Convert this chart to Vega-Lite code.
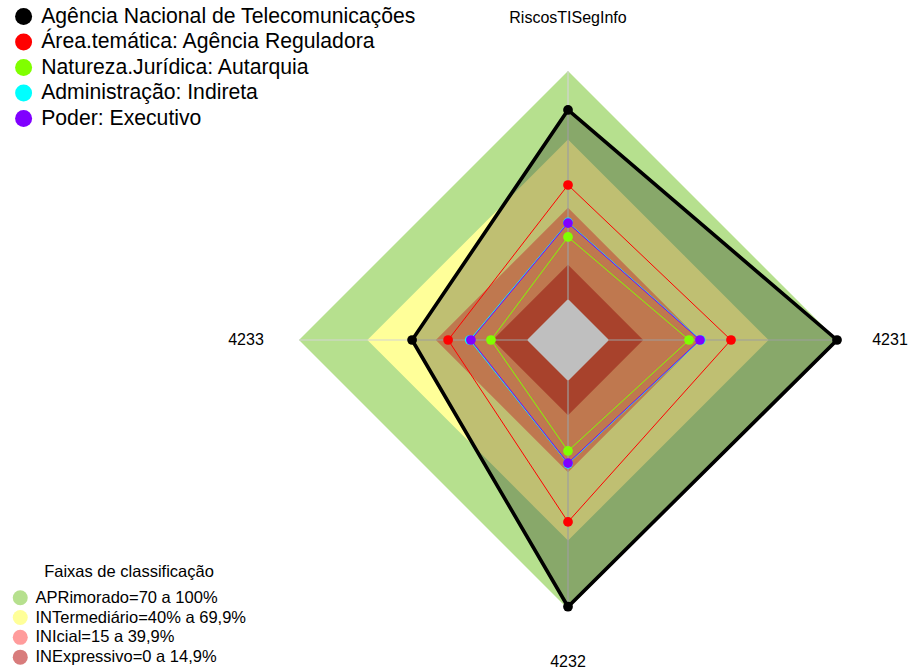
{
  "$schema": "https://vega.github.io/schema/vega-lite/v6.json",
  "width": 909,
  "height": 672,
  "padding": 0,
  "autosize": {"type": "none"},
  "background": "white",
  "config": {"view": {"stroke": null}, "font": "Liberation Sans", "text": {"font": "Liberation Sans"}},
  "datasets": {
    "series": [
      {"serie": "Agência Nacional de Telecomunicações", "axis": "RiscosTISegInfo", "value": 82.9},
      {"serie": "Agência Nacional de Telecomunicações", "axis": "4231", "value": 100},
      {"serie": "Agência Nacional de Telecomunicações", "axis": "4232", "value": 99},
      {"serie": "Agência Nacional de Telecomunicações", "axis": "4233", "value": 50.4},
      {"serie": "Área.temática: Agência Reguladora", "axis": "RiscosTISegInfo", "value": 50},
      {"serie": "Área.temática: Agência Reguladora", "axis": "4231", "value": 53.5},
      {"serie": "Área.temática: Agência Reguladora", "axis": "4232", "value": 61.8},
      {"serie": "Área.temática: Agência Reguladora", "axis": "4233", "value": 34.6},
      {"serie": "Natureza.Jurídica: Autarquia", "axis": "RiscosTISegInfo", "value": 27.2},
      {"serie": "Natureza.Jurídica: Autarquia", "axis": "4231", "value": 35.1},
      {"serie": "Natureza.Jurídica: Autarquia", "axis": "4232", "value": 30.7},
      {"serie": "Natureza.Jurídica: Autarquia", "axis": "4233", "value": 15.8},
      {"serie": "Administração: Indireta", "axis": "RiscosTISegInfo", "value": 33.6},
      {"serie": "Administração: Indireta", "axis": "4231", "value": 40.2},
      {"serie": "Administração: Indireta", "axis": "4232", "value": 36.3},
      {"serie": "Administração: Indireta", "axis": "4233", "value": 25.1},
      {"serie": "Poder: Executivo", "axis": "RiscosTISegInfo", "value": 33.3},
      {"serie": "Poder: Executivo", "axis": "4231", "value": 39.9},
      {"serie": "Poder: Executivo", "axis": "4232", "value": 36},
      {"serie": "Poder: Executivo", "axis": "4233", "value": 24.6}
    ],
    "rings": [
      {"band": "APR", "axis": "RiscosTISegInfo", "value": 100},
      {"band": "APR", "axis": "4231", "value": 100},
      {"band": "APR", "axis": "4232", "value": 100},
      {"band": "APR", "axis": "4233", "value": 100},
      {"band": "INT", "axis": "RiscosTISegInfo", "value": 70},
      {"band": "INT", "axis": "4231", "value": 70},
      {"band": "INT", "axis": "4232", "value": 70},
      {"band": "INT", "axis": "4233", "value": 70},
      {"band": "INI", "axis": "RiscosTISegInfo", "value": 40},
      {"band": "INI", "axis": "4231", "value": 40},
      {"band": "INI", "axis": "4232", "value": 40},
      {"band": "INI", "axis": "4233", "value": 40},
      {"band": "INE", "axis": "RiscosTISegInfo", "value": 15},
      {"band": "INE", "axis": "4231", "value": 15},
      {"band": "INE", "axis": "4232", "value": 15},
      {"band": "INE", "axis": "4233", "value": 15},
      {"band": "ZERO", "axis": "RiscosTISegInfo", "value": 0},
      {"band": "ZERO", "axis": "4231", "value": 0},
      {"band": "ZERO", "axis": "4232", "value": 0},
      {"band": "ZERO", "axis": "4233", "value": 0}
    ],
    "axes": [
      {"axis": "RiscosTISegInfo"},
      {"axis": "4231"},
      {"axis": "4232"},
      {"axis": "4233"}
    ],
    "bands": [
      {"band": "APRimorado=70 a 100%"},
      {"band": "INTermediário=40% a 69,9%"},
      {"band": "INIcial=15 a 39,9%"},
      {"band": "INExpressivo=0 a 14,9%"}
    ]
  },
  "layer": [
    {
      "data": {"name": "rings"},
      "transform": [
        {"filter": "datum.band === 'APR'"},
        {"calculate": "datum.axis === 'RiscosTISegInfo' ? 0 : datum.axis === '4231' ? 1 : datum.axis === '4232' ? 2 : 3", "as": "idx"},
        {"calculate": "0.15242 + 0.84758 * datum.value / 100", "as": "r"},
        {"calculate": "datum.idx === 1 ? datum.r : datum.idx === 3 ? -datum.r : 0", "as": "px"},
        {"calculate": "datum.idx === 0 ? datum.r : datum.idx === 2 ? -datum.r : 0", "as": "py"}
      ],
      "mark": {"type": "line", "interpolate": "linear-closed", "fill": "#B6E08E", "stroke": null},
      "encoding": {
        "x": {"field": "px", "type": "quantitative", "scale": {"domain": [-2.11152, 1.26766], "nice": false, "zero": false}, "axis": null},
        "y": {"field": "py", "type": "quantitative", "scale": {"domain": [-1.2342, 1.26394], "nice": false, "zero": false}, "axis": null},
        "order": {"field": "idx"}
      }
    },
    {
      "data": {"name": "rings"},
      "transform": [
        {"filter": "datum.band === 'INT'"},
        {"calculate": "datum.axis === 'RiscosTISegInfo' ? 0 : datum.axis === '4231' ? 1 : datum.axis === '4232' ? 2 : 3", "as": "idx"},
        {"calculate": "0.15242 + 0.84758 * datum.value / 100", "as": "r"},
        {"calculate": "datum.idx === 1 ? datum.r : datum.idx === 3 ? -datum.r : 0", "as": "px"},
        {"calculate": "datum.idx === 0 ? datum.r : datum.idx === 2 ? -datum.r : 0", "as": "py"}
      ],
      "mark": {"type": "line", "interpolate": "linear-closed", "fill": "#FFFF99", "stroke": null},
      "encoding": {
        "x": {"field": "px", "type": "quantitative"},
        "y": {"field": "py", "type": "quantitative"},
        "order": {"field": "idx"}
      }
    },
    {
      "data": {"name": "rings"},
      "transform": [
        {"filter": "datum.band === 'INI'"},
        {"calculate": "datum.axis === 'RiscosTISegInfo' ? 0 : datum.axis === '4231' ? 1 : datum.axis === '4232' ? 2 : 3", "as": "idx"},
        {"calculate": "0.15242 + 0.84758 * datum.value / 100", "as": "r"},
        {"calculate": "datum.idx === 1 ? datum.r : datum.idx === 3 ? -datum.r : 0", "as": "px"},
        {"calculate": "datum.idx === 0 ? datum.r : datum.idx === 2 ? -datum.r : 0", "as": "py"}
      ],
      "mark": {"type": "line", "interpolate": "linear-closed", "fill": "#FFA06A", "stroke": null},
      "encoding": {
        "x": {"field": "px", "type": "quantitative"},
        "y": {"field": "py", "type": "quantitative"},
        "order": {"field": "idx"}
      }
    },
    {
      "data": {"name": "rings"},
      "transform": [
        {"filter": "datum.band === 'INE'"},
        {"calculate": "datum.axis === 'RiscosTISegInfo' ? 0 : datum.axis === '4231' ? 1 : datum.axis === '4232' ? 2 : 3", "as": "idx"},
        {"calculate": "0.15242 + 0.84758 * datum.value / 100", "as": "r"},
        {"calculate": "datum.idx === 1 ? datum.r : datum.idx === 3 ? -datum.r : 0", "as": "px"},
        {"calculate": "datum.idx === 0 ? datum.r : datum.idx === 2 ? -datum.r : 0", "as": "py"}
      ],
      "mark": {"type": "line", "interpolate": "linear-closed", "fill": "#E0593B", "stroke": null},
      "encoding": {
        "x": {"field": "px", "type": "quantitative"},
        "y": {"field": "py", "type": "quantitative"},
        "order": {"field": "idx"}
      }
    },
    {
      "data": {"name": "rings"},
      "transform": [
        {"filter": "datum.band === 'ZERO'"},
        {"calculate": "datum.axis === 'RiscosTISegInfo' ? 0 : datum.axis === '4231' ? 1 : datum.axis === '4232' ? 2 : 3", "as": "idx"},
        {"calculate": "0.15242 + 0.84758 * datum.value / 100", "as": "r"},
        {"calculate": "datum.idx === 1 ? datum.r : datum.idx === 3 ? -datum.r : 0", "as": "px"},
        {"calculate": "datum.idx === 0 ? datum.r : datum.idx === 2 ? -datum.r : 0", "as": "py"}
      ],
      "mark": {"type": "line", "interpolate": "linear-closed", "fill": "#FFFFFF", "stroke": null},
      "encoding": {
        "x": {"field": "px", "type": "quantitative"},
        "y": {"field": "py", "type": "quantitative"},
        "order": {"field": "idx"}
      }
    },
    {
      "data": {"name": "axes"},
      "transform": [
        {"calculate": "datum.axis === '4231' ? 1 : datum.axis === '4233' ? -1 : 0", "as": "dx"},
        {"calculate": "datum.axis === 'RiscosTISegInfo' ? 1 : datum.axis === '4232' ? -1 : 0", "as": "dy"},
        {"calculate": "0.15242 * datum.dx", "as": "x0"},
        {"calculate": "0.15242 * datum.dy", "as": "y0"}
      ],
      "mark": {"type": "rule", "color": "#D3D3D3", "strokeWidth": 1.2},
      "encoding": {
        "x": {"field": "x0", "type": "quantitative"},
        "y": {"field": "y0", "type": "quantitative"},
        "x2": {"field": "dx"},
        "y2": {"field": "dy"}
      }
    },
    {
      "data": {"name": "bands"},
      "mark": {"type": "circle", "opacity": 0},
      "encoding": {
        "x": {"datum": 0, "type": "quantitative"},
        "y": {"datum": 0, "type": "quantitative"},
        "fill": {
          "field": "band",
          "type": "nominal",
          "scale": {
            "domain": ["APRimorado=70 a 100%", "INTermediário=40% a 69,9%", "INIcial=15 a 39,9%", "INExpressivo=0 a 14,9%"],
            "range": ["#B6E08E", "#FFFF99", "#FF9C9C", "#D87C7C"]
          },
          "legend": {
            "orient": "none",
            "legendX": 12,
            "legendY": 564,
            "title": "Faixas de classificação",
            "titleFont": "Liberation Sans",
            "titleFontSize": 16.5,
            "titleFontWeight": "normal",
            "titleColor": "black",
            "titleAnchor": "middle",
            "titlePadding": 9,
            "labelFont": "Liberation Sans",
            "labelFontSize": 16.5,
            "labelColor": "black",
            "labelLimit": 600,
            "labelOffset": 7,
            "symbolType": "circle",
            "symbolSize": 225,
            "symbolOpacity": 1,
            "symbolStrokeWidth": 0,
            "rowPadding": 2.8
          }
        }
      }
    },
    {
      "data": {"name": "series"},
      "transform": [
        {"filter": "datum.serie === 'Agência Nacional de Telecomunicações'"},
        {"calculate": "datum.axis === 'RiscosTISegInfo' ? 0 : datum.axis === '4231' ? 1 : datum.axis === '4232' ? 2 : 3", "as": "idx"},
        {"calculate": "0.15242 + 0.84758 * datum.value / 100", "as": "r"},
        {"calculate": "datum.idx === 1 ? datum.r : datum.idx === 3 ? -datum.r : 0", "as": "px"},
        {"calculate": "datum.idx === 0 ? datum.r : datum.idx === 2 ? -datum.r : 0", "as": "py"}
      ],
      "mark": {"type": "line", "interpolate": "linear-closed", "fill": "#000000", "fillOpacity": 0.25, "stroke": "#000000", "strokeWidth": 3.6},
      "encoding": {
        "x": {"field": "px", "type": "quantitative"},
        "y": {"field": "py", "type": "quantitative"},
        "order": {"field": "idx"}
      }
    },
    {
      "data": {"name": "series"},
      "transform": [
        {"filter": "datum.serie !== 'Agência Nacional de Telecomunicações'"},
        {"calculate": "datum.axis === 'RiscosTISegInfo' ? 0 : datum.axis === '4231' ? 1 : datum.axis === '4232' ? 2 : 3", "as": "idx"},
        {"calculate": "0.15242 + 0.84758 * datum.value / 100", "as": "r"},
        {"calculate": "datum.idx === 1 ? datum.r : datum.idx === 3 ? -datum.r : 0", "as": "px"},
        {"calculate": "datum.idx === 0 ? datum.r : datum.idx === 2 ? -datum.r : 0", "as": "py"}
      ],
      "mark": {"type": "line", "interpolate": "linear-closed", "strokeWidth": 1},
      "encoding": {
        "x": {"field": "px", "type": "quantitative"},
        "y": {"field": "py", "type": "quantitative"},
        "order": {"field": "idx"},
        "color": {
          "field": "serie",
          "type": "nominal",
          "scale": {
            "domain": ["Agência Nacional de Telecomunicações", "Área.temática: Agência Reguladora", "Natureza.Jurídica: Autarquia", "Administração: Indireta", "Poder: Executivo"],
            "range": ["#000000", "#FF0000", "#80FF00", "#00FFFF", "#8000FF"]
          },
          "legend": {
            "orient": "none",
            "legendX": 13,
            "legendY": 6,
            "title": null,
            "labelFont": "Liberation Sans",
            "labelFontSize": 21.2,
            "labelColor": "black",
            "labelLimit": 800,
            "labelOffset": 7,
            "symbolType": "circle",
            "symbolSize": 289,
            "symbolOpacity": 1,
            "symbolStrokeWidth": 0,
            "rowPadding": 3.5
          }
        }
      }
    },
    {
      "data": {"name": "series"},
      "transform": [
        {"calculate": "datum.axis === 'RiscosTISegInfo' ? 0 : datum.axis === '4231' ? 1 : datum.axis === '4232' ? 2 : 3", "as": "idx"},
        {"calculate": "0.15242 + 0.84758 * datum.value / 100", "as": "r"},
        {"calculate": "datum.idx === 1 ? datum.r : datum.idx === 3 ? -datum.r : 0", "as": "px"},
        {"calculate": "datum.idx === 0 ? datum.r : datum.idx === 2 ? -datum.r : 0", "as": "py"}
      ],
      "mark": {"type": "circle", "size": 95, "opacity": 1},
      "encoding": {
        "x": {"field": "px", "type": "quantitative"},
        "y": {"field": "py", "type": "quantitative"},
        "color": {
          "field": "serie",
          "type": "nominal",
          "legend": {
            "orient": "none",
            "legendX": 13,
            "legendY": 6,
            "title": null,
            "labelFont": "Liberation Sans",
            "labelFontSize": 21.2,
            "labelColor": "black",
            "labelLimit": 800,
            "labelOffset": 7,
            "symbolType": "circle",
            "symbolSize": 289,
            "symbolOpacity": 1,
            "symbolStrokeWidth": 0,
            "rowPadding": 3.5
          }
        }
      }
    },
    {
      "data": {"name": "axes"},
      "transform": [
        {"calculate": "datum.axis === '4231' ? 1.197 : datum.axis === '4233' ? -1.197 : 0", "as": "tx"},
        {"calculate": "datum.axis === 'RiscosTISegInfo' ? 1.197 : datum.axis === '4232' ? -1.197 : 0", "as": "ty"}
      ],
      "mark": {"type": "text", "fontSize": 16, "font": "Liberation Sans", "color": "black", "align": "center", "baseline": "middle"},
      "encoding": {
        "x": {"field": "tx", "type": "quantitative"},
        "y": {"field": "ty", "type": "quantitative"},
        "text": {"field": "axis"}
      }
    }
  ]
}
